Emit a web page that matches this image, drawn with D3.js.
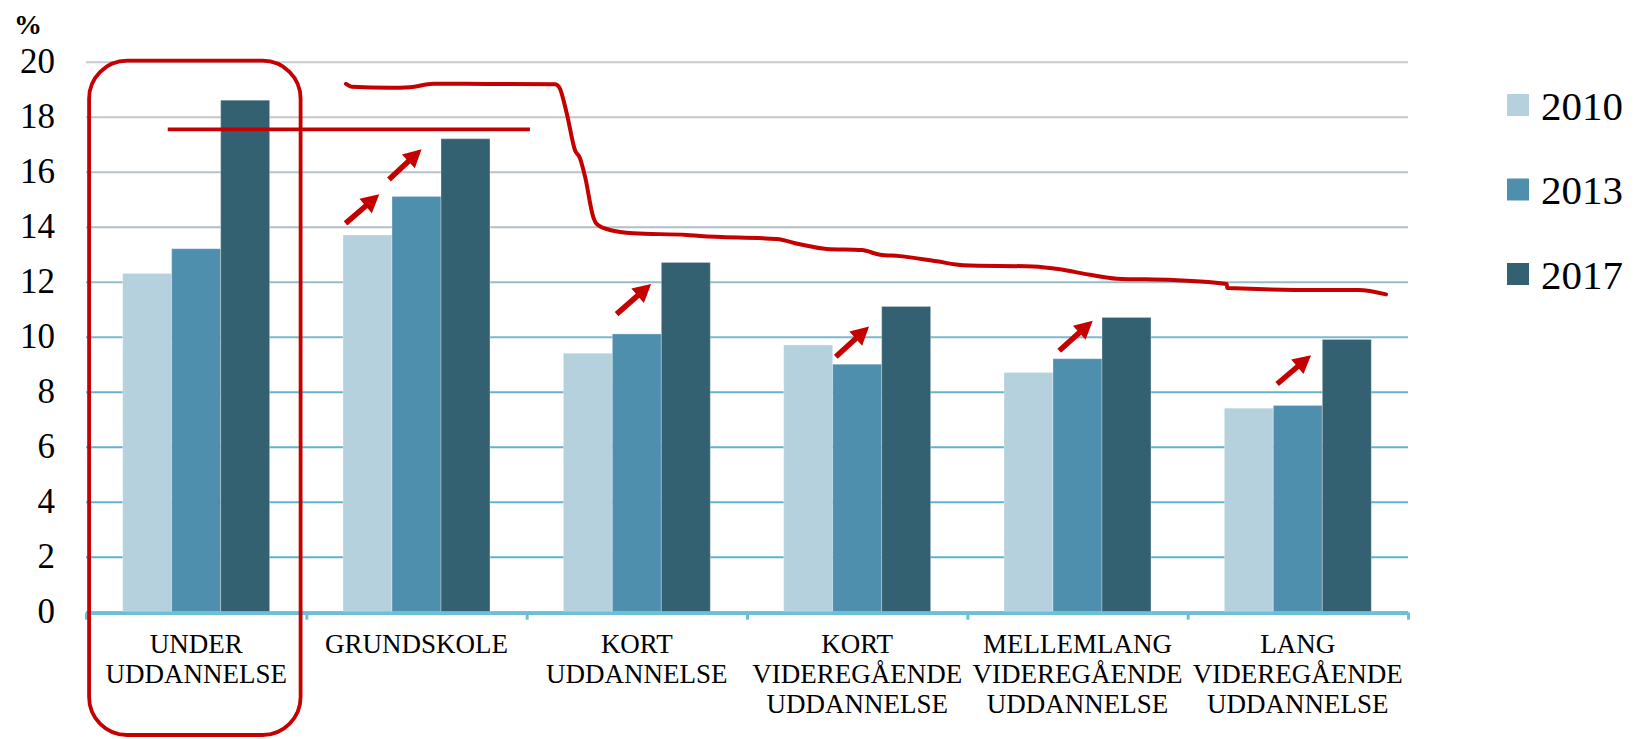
<!DOCTYPE html>
<html>
<head>
<meta charset="utf-8">
<script src="https://cdn.jsdelivr.net/npm/d3@7"></script>
<style>
  body { margin: 0; background: #fff; }
  svg { display: block; }
</style>
</head>
<body>
<div id="vizcont"></div>
<script>
// ---- data ----
var categories = ["UNDER\nUDDANNELSE", "GRUNDSKOLE", "KORT\nUDDANNELSE",
                  "KORT\nVIDEREGÅENDE\nUDDANNELSE", "MELLEMLANG\nVIDEREGÅENDE\nUDDANNELSE",
                  "LANG\nVIDEREGÅENDE\nUDDANNELSE"];
var years = ["2010", "2013", "2017"];
var v2010 = [12.3, 13.7, 9.4, 9.7, 8.7, 7.4];
var v2013 = [13.2, 15.1, 10.1, 9.0, 9.2, 7.5];
var v2017 = [18.6, 17.2, 12.7, 11.1, 10.7, 9.9];
var yTicks = [0, 2, 4, 6, 8, 10, 12, 14, 16, 18, 20];
var yUnit = "%";

// hand drawn annotations, in (category position, value)
var trendLine = [[1.180, 19.19], [1.206, 19.09], [1.380, 19.05], [1.470, 19.07], [1.576, 19.20],
  [1.819, 19.19], [2.129, 19.18], [2.148, 19.07], [2.182, 18.12], [2.219, 16.79], [2.242, 16.49],
  [2.265, 15.82], [2.302, 14.36], [2.318, 14.10], [2.378, 13.88], [2.484, 13.76], [2.726, 13.70],
  [2.787, 13.66], [3.135, 13.55], [3.240, 13.36], [3.362, 13.19], [3.521, 13.15], [3.604, 12.98],
  [3.694, 12.93], [3.861, 12.74], [3.982, 12.60], [4.299, 12.55], [4.420, 12.45], [4.557, 12.25],
  [4.678, 12.11], [4.935, 12.06], [5.177, 11.92], [5.180, 11.77], [5.600, 11.70], [5.775, 11.70],
  [5.900, 11.54]];
var markLine = [[0.371, 17.54], [2.015, 17.54]];
var arrows = [
  [[1.178, 14.12], [1.331, 15.18]],
  [[1.375, 15.72], [1.523, 16.82]],
  [[2.408, 10.82], [2.565, 11.92]],
  [[3.403, 9.27], [3.554, 10.37]],
  [[4.417, 9.49], [4.569, 10.58]],
  [[5.406, 8.28], [5.560, 9.33]]
];

function drawChart() {
  var rows = categories.map(function(c, i) {
    return { cat: c, "2010": v2010[i], "2013": v2013[i], "2017": v2017[i] };
  });

  var W = 1636, H = 739;
  var left = 86, right = 1408, plotTop = 61.7, plotBottom = 611.7;
  var serif = "'Liberation Serif', 'Times New Roman', serif";
  var red = "#c40000";

  var svg = d3.select("#vizcont").append("svg")
    .attr("width", W).attr("height", H);

  var x0 = d3.scaleBand().domain(categories).range([left, right])
    .paddingInner(0.333).paddingOuter(0.1665);
  var x1 = d3.scaleBand().domain(years).range([0, x0.bandwidth()]).padding(0);
  var xu = d3.scaleLinear().domain([0, categories.length]).range([left, right]);
  var y = d3.scaleLinear().domain([0, 20]).range([plotBottom, plotTop]);
  var z = d3.scaleOrdinal().domain(years).range(["#b4d1dd", "#4d8fad", "#336172"]);

  // gridline colour fades from grey (top) to blue (bottom)
  var gridCol = d3.scaleLinear().domain([0, 8, 14, 20])
    .range(["#58b4cf", "#63b4cd", "#b0c0c9", "#c8c9ca"]);

  // y axis + gridlines
  var gy = svg.append("g")
    .attr("transform", "translate(" + left + ",0)")
    .call(d3.axisLeft(y).tickValues(yTicks).tickSize(-(right - left)).tickPadding(31)
      .tickFormat(d3.format("d")));
  gy.select(".domain").remove();
  gy.selectAll(".tick line")
    .attr("stroke", function(d) { return gridCol(d); })
    .attr("stroke-width", 2);
  gy.selectAll(".tick text")
    .style("font-family", serif)
    .style("font-size", "35px")
    .attr("fill", "#000");

  svg.append("text")
    .attr("x", 14).attr("y", 34)
    .style("font-family", serif)
    .style("font-size", "28px")
    .style("font-weight", "bold")
    .text(yUnit);

  // bars
  svg.append("g")
    .selectAll("g")
    .data(rows)
    .enter().append("g")
    .attr("transform", function(d) { return "translate(" + x0(d.cat) + ",0)"; })
    .selectAll("rect")
    .data(function(d) { return years.map(function(k) { return { key: k, value: d[k] }; }); })
    .enter().append("rect")
    .attr("x", function(d) { return x1(d.key); })
    .attr("width", x1.bandwidth())
    .attr("y", function(d) { return y(d.value); })
    .attr("height", function(d) { return y(0) - y(d.value); })
    .attr("fill", function(d) { return z(d.key); })
    .attr("stroke", "rgba(255,255,255,0.3)")
    .attr("stroke-width", 1);

  // x axis with ticks between the categories
  var gx = svg.append("g")
    .attr("transform", "translate(0," + (plotBottom + 1) + ")")
    .call(d3.axisBottom(xu).tickValues(d3.range(categories.length + 1))
      .tickSize(7).tickSizeOuter(0).tickFormat(""));
  gx.select(".domain").attr("stroke", "#6cbfd7").attr("stroke-width", 3.5);
  gx.selectAll(".tick line").attr("stroke", "#6cbfd7").attr("stroke-width", 3);

  // category labels
  var lab = svg.append("g")
    .selectAll("text")
    .data(categories)
    .enter().append("text")
    .attr("y", 652.7)
    .attr("text-anchor", "middle")
    .style("font-family", serif)
    .style("font-size", "27px")
    .attr("fill", "#000");
  lab.selectAll("tspan")
    .data(function(d) { return d.split("\n").map(function(t) { return { cat: d, t: t }; }); })
    .enter().append("tspan")
    .attr("x", function(d) { return x0(d.cat) + x0.bandwidth() / 2; })
    .attr("dy", function(d, i) { return i ? 30 : 0; })
    .text(function(d) { return d.t; });

  // legend
  var legend = svg.append("g")
    .selectAll("g")
    .data(years)
    .enter().append("g")
    .attr("transform", function(d, i) { return "translate(1507," + (94 + i * 84.5) + ")"; });
  legend.append("rect")
    .attr("width", 22).attr("height", 22)
    .attr("fill", z);
  legend.append("text")
    .attr("x", 34).attr("y", 11).attr("dy", "0.36em")
    .style("font-family", serif)
    .style("font-size", "41px")
    .text(function(d) { return d; });

  // ---- red annotations ----
  var ga = svg.append("g").attr("fill", "none").attr("stroke", red);

  ga.append("rect")
    .attr("x", xu(0.014)).attr("y", y(20) - 1)
    .attr("width", xu(0.974) - xu(0.014))
    .attr("height", 736 - y(20))
    .attr("rx", 38).attr("ry", 38)
    .attr("stroke-width", 3.8);

  var line = d3.line()
    .x(function(d) { return xu(d[0]); })
    .y(function(d) { return y(d[1]); })
    .curve(d3.curveMonotoneX);

  ga.append("path").datum(markLine)
    .attr("d", line)
    .attr("stroke-width", 3.8);

  ga.append("path").datum(trendLine)
    .attr("d", line)
    .attr("stroke-width", 4)
    .attr("stroke-linejoin", "round")
    .attr("stroke-linecap", "round");

  arrows.forEach(function(a) {
    var ax = xu(a[0][0]), ay = y(a[0][1]), tx = xu(a[1][0]), ty = y(a[1][1]);
    var ang = Math.atan2(ty - ay, tx - ax);
    var hl = 18, hw = 9.5;
    var bx = tx - hl * Math.cos(ang), by = ty - hl * Math.sin(ang);
    ga.append("line")
      .attr("x1", ax).attr("y1", ay)
      .attr("x2", bx + 2 * Math.cos(ang)).attr("y2", by + 2 * Math.sin(ang))
      .attr("stroke-width", 5.5);
    var px = -Math.sin(ang), py = Math.cos(ang);
    ga.append("path")
      .attr("d", "M" + tx + "," + ty +
        "L" + (bx + hw * px) + "," + (by + hw * py) +
        "L" + (bx - hw * px) + "," + (by - hw * py) + "Z")
      .attr("stroke", "none")
      .attr("fill", red);
  });
}

drawChart();
</script>
</body>
</html>
